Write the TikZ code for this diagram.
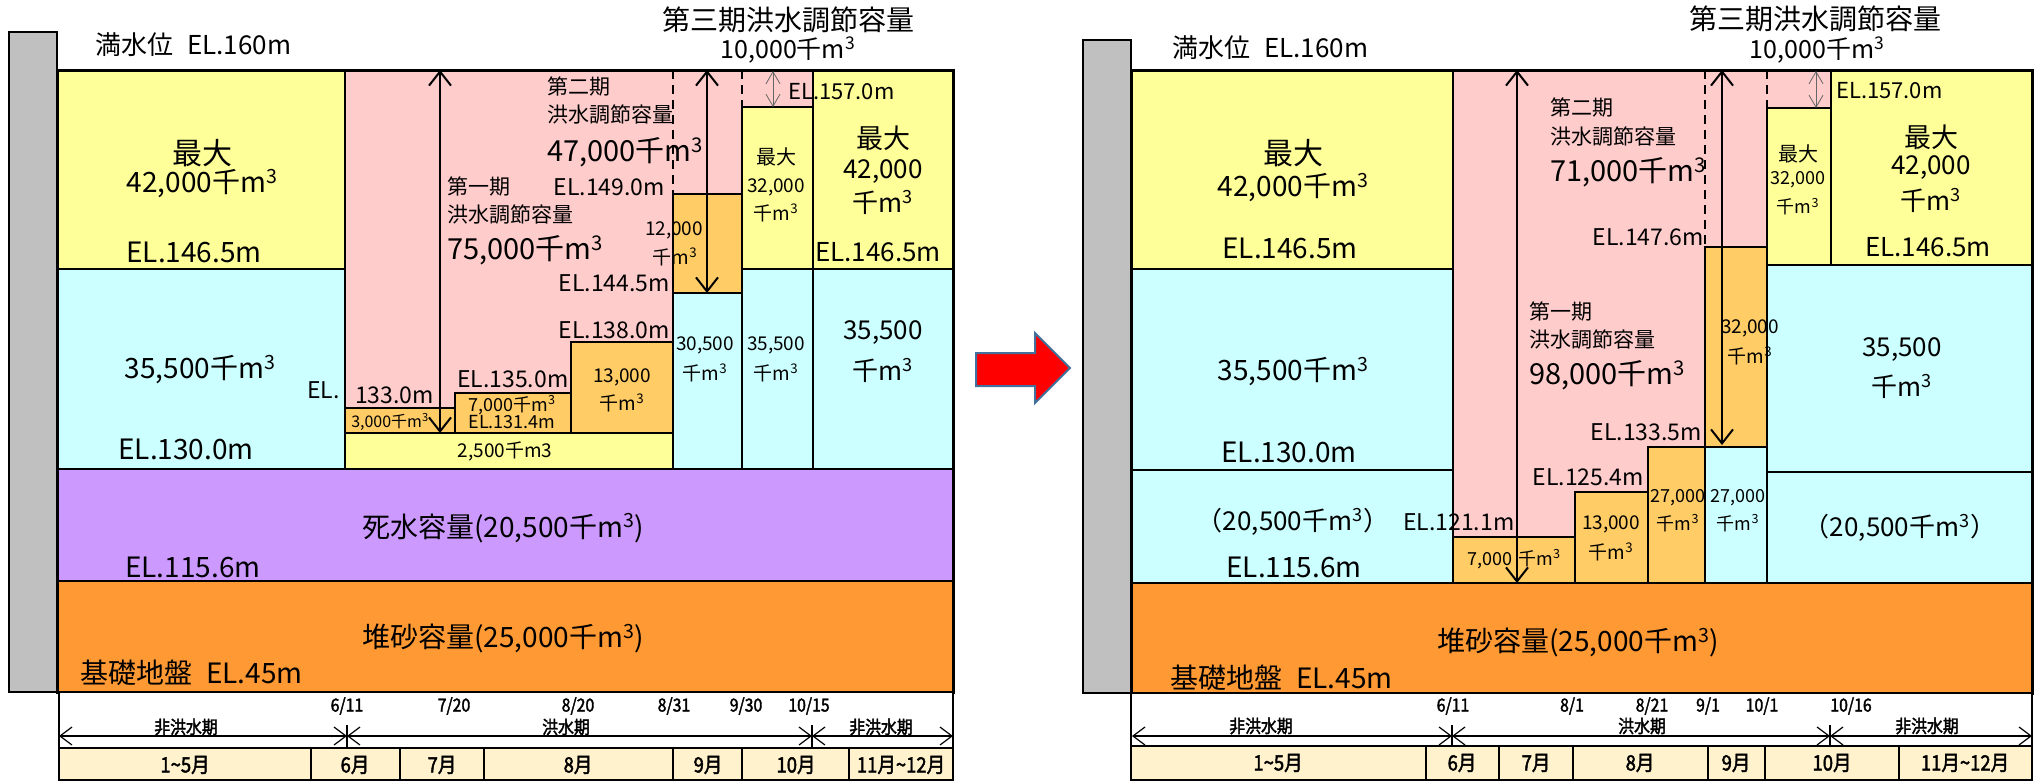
\documentclass[tikz,border=0pt]{standalone}
\usepackage{fontspec}
\setmainfont{Noto Sans CJK JP}
\newfontfamily\tlfont{Noto Sans CJK JP}[FakeBold=2,FakeStretch=0.88]
\usetikzlibrary{arrows.meta}
\definecolor{cyel}{HTML}{FFFF99}
\definecolor{ccyan}{HTML}{CCFFFF}
\definecolor{cpink}{HTML}{FFCCCC}
\definecolor{corgl}{HTML}{FFCC66}
\definecolor{cpurp}{HTML}{CC99FF}
\definecolor{corgd}{HTML}{FF9933}
\definecolor{cwall}{HTML}{C0C0C0}
\definecolor{ccream}{HTML}{FFF2CC}
\definecolor{cedge}{HTML}{41719C}
\newcommand\fs[1]{\fontsize{#1}{#1}\selectfont}
\newcommand\kmc{千m\textsuperscript{3}}
\begin{document}
\begin{tikzpicture}[x=1pt,y=-1pt,
  t/.style={inner sep=0pt,anchor=center},
  bx/.style={draw=black,line width=2.2pt},
  dsh/.style={draw=black,line width=2.2pt,dash pattern=on 9pt off 6pt},
  dbl/.style={line width=2pt,{Straight Barb[length=14pt,width=22pt]}-{Straight Barb[length=14pt,width=22pt]}},
  thn/.style={line width=0.8pt,draw=black!60,{Straight Barb[length=12pt,width=14pt]}-{Straight Barb[length=12pt,width=14pt]}},
  tla/.style={line width=1.2pt,{Straight Barb[length=12pt,width=18pt]}-{Straight Barb[length=12pt,width=18pt]}},
  tick/.style={line width=1.2pt},
  mon/.style={draw=black,line width=2.2pt,fill=ccream},
  tl/.style={inner sep=0pt,anchor=center,font=\tlfont\fs{18}},
  tm/.style={inner sep=0pt,anchor=center,font=\tlfont\fs{21}}]
\useasboundingbox (0,0) rectangle (2036,780);

% ================= LEFT DIAGRAM =================
\filldraw[fill=cwall,draw=black,line width=2pt] (9,32) rectangle (57,692);
\fill[cpink] (345,70) rectangle (813,469);
\draw[bx,fill=cyel] (57,70) rectangle (345,269);
\draw[bx,fill=ccyan] (57,269) rectangle (345,469);
\draw[bx,fill=cyel] (345,433) rectangle (673,469);
\draw[bx,fill=corgl] (345,408) rectangle (455,433);
\draw[bx,fill=corgl] (455,393) rectangle (571,433);
\draw[bx,fill=corgl] (571,342) rectangle (673,433);
\draw[bx,fill=corgl] (673,194) rectangle (742,293);
\draw[bx,fill=ccyan] (673,293) rectangle (742,469);
\draw[bx,fill=cyel] (742,107) rectangle (813,269);
\draw[bx,fill=ccyan] (742,269) rectangle (813,469);
\draw[bx,fill=cyel] (813,70) rectangle (953,269);
\draw[bx,fill=ccyan] (813,269) rectangle (953,469);
\draw[bx,fill=cpurp] (57,469) rectangle (953,581);
\draw[bx,fill=corgd] (57,581) rectangle (953,692);
\draw[line width=3pt] (57,70) rectangle (953,692);
\draw[dsh] (673,70) -- (673,194);
\draw[dsh] (742,70) -- (742,107);

\coordinate (la1t) at (440,70); \coordinate (la1b) at (440,433);
\coordinate (la2t) at (707,70); \coordinate (la2b) at (707,293);
\coordinate (la3t) at (773,71); \coordinate (la3b) at (773,107);
\draw[dbl] (la1t) -- (la1b);
\draw[dbl] (la2t) -- (la2b);
\draw[thn] (la3t) -- (la3b);

% texts left
\node[t,anchor=west,font=\fs{26}] (L1) at (95,45) {満水位\hspace{14pt}EL.160m};
\node[t,font=\fs{28}] (L2) at (788,20) {第三期洪水調節容量};
\node[t,font=\fs{25}] (L3) at (788,50) {10,000\kmc};
\node[t,font=\fs{30}] (L4) at (202,153) {最大};
\node[t,font=\fs{28}] (L5) at (202,184) {42,000\kmc};
\node[t,font=\fs{28}] (L6) at (194,252) {EL.146.5m};
\node[t,font=\fs{28}] (L7) at (200,370) {35,500\kmc};
\node[t,font=\fs{28}] (L8) at (186,449) {EL.130.0m};
\node[t,font=\fs{28}] (L9) at (503,528) {死水容量(20,500\kmc)};
\node[t,anchor=west,font=\fs{28}] (L10) at (125,567) {EL.115.6m};
\node[t,font=\fs{28}] (L11) at (503,638) {堆砂容量(25,000\kmc)};
\node[t,anchor=west,font=\fs{28}] (L12) at (80,673) {基礎地盤\hspace{14pt}EL.45m};
\node[t,anchor=west,font=\fs{21}] (L13) at (547,87) {第二期};
\node[t,anchor=west,font=\fs{21}] (L14) at (547,115) {洪水調節容量};
\node[t,anchor=west,font=\fs{29}] (L15) at (547,152) {47,000\kmc};
\node[t,anchor=west,font=\fs{21}] (L16) at (447,187) {第一期};
\node[t,anchor=west,font=\fs{21}] (L17) at (447,215) {洪水調節容量};
\node[t,anchor=west,font=\fs{29}] (L18) at (447,250) {75,000\kmc};
\node[t,anchor=east,font=\fs{23}] (L19) at (665,187) {EL.149.0m};
\node[t,anchor=east,font=\fs{23}] (L20) at (670,283) {EL.144.5m};
\node[t,anchor=east,font=\fs{23}] (L21) at (670,330) {EL.138.0m};
\node[t,anchor=west,font=\fs{23}] (L22) at (457,379) {EL.135.0m};
\node[t,anchor=east,font=\fs{23}] (L23) at (340,390) {EL.};
\node[t,anchor=west,font=\fs{23}] (L24) at (355,395) {133.0m};
\node[t,font=\fs{16}] (L25) at (390,422) {3,000\kmc};
\node[t,font=\fs{18}] (L26) at (512,405) {7,000\kmc};
\node[t,font=\fs{18}] (L27) at (512,422) {EL.131.4m};
\node[t,font=\fs{19}] (L28) at (622,377) {13,000};
\node[t,font=\fs{19}] (L29) at (622,403) {\kmc};
\node[t,font=\fs{19}] (L30) at (505,451) {2,500千m3};
\node[t,font=\fs{19}] (L31) at (674,230) {12,000};
\node[t,font=\fs{19}] (L32) at (675,257) {\kmc};
\node[t,font=\fs{20}] (L33) at (776,157) {最大};
\node[t,font=\fs{19}] (L34) at (776,187) {32,000};
\node[t,font=\fs{19}] (L35) at (776,213) {\kmc};
\node[t,font=\fs{27}] (L36) at (883,138) {最大};
\node[t,font=\fs{26}] (L37) at (883,172) {42,000};
\node[t,font=\fs{26}] (L38) at (883,202) {\kmc};
\node[t,font=\fs{26}] (L39) at (878,252) {EL.146.5m};
\node[t,anchor=west,font=\fs{22}] (L40) at (788,92) {EL.157.0m};
\node[t,font=\fs{19}] (L41) at (705,345) {30,500};
\node[t,font=\fs{19}] (L42) at (705,373) {\kmc};
\node[t,font=\fs{19}] (L43) at (776,345) {35,500};
\node[t,font=\fs{19}] (L44) at (776,373) {\kmc};
\node[t,font=\fs{26}] (L45) at (883,333) {35,500};
\node[t,font=\fs{26}] (L46) at (883,370) {\kmc};

% timeline left
\draw[line width=1.5pt,fill=white] (59,692) rectangle (953,748);
\draw[mon] (59,748) rectangle (311,780);
\draw[mon] (311,748) rectangle (400,780);
\draw[mon] (400,748) rectangle (484,780);
\draw[mon] (484,748) rectangle (673,780);
\draw[mon] (673,748) rectangle (742,780);
\draw[mon] (742,748) rectangle (849,780);
\draw[mon] (849,748) rectangle (953,780);
\coordinate (lt0) at (59,736); \coordinate (lt1) at (347,736);
\coordinate (lt2) at (812,736); \coordinate (lt3) at (953,736);
\draw[tla] (lt0) -- (lt1);
\draw[tla] (lt1) -- (lt2);
\draw[tla] (lt2) -- (lt3);
\draw[tick] (347,725) -- (347,747);
\draw[tick] (812,725) -- (812,747);
\node[tl] (LD1) at (347,706) {6/11};
\node[tl] (LD2) at (454,706) {7/20};
\node[tl] (LD3) at (578,706) {8/20};
\node[tl] (LD4) at (674,706) {8/31};
\node[tl] (LD5) at (746,706) {9/30};
\node[tl] (LD6) at (809,706) {10/15};
\node[tl] (LP1) at (186,727) {非洪水期};
\node[tl] (LP2) at (566,727) {洪水期};
\node[tl] (LP3) at (881,727) {非洪水期};
\node[tm] (LM1) at (185,765) {1\textasciitilde 5月};
\node[tm] (LM2) at (355,765) {6月};
\node[tm] (LM3) at (442,765) {7月};
\node[tm] (LM4) at (578,765) {8月};
\node[tm] (LM5) at (708,765) {9月};
\node[tm] (LM6) at (796,765) {10月};
\node[tm] (LM7) at (901,765) {11月\textasciitilde 12月};

% ================= RED ARROW =================
\filldraw[fill=red,draw=cedge,line width=2pt] (976,353) -- (1035,353) -- (1035,333) -- (1070,368) -- (1035,403) -- (1035,386) -- (976,386) -- cycle;

% ================= RIGHT DIAGRAM =================
\filldraw[fill=cwall,draw=black,line width=2pt] (1083,40) rectangle (1131,693);
\fill[cpink] (1453,70) rectangle (1831,583);
\draw[bx,fill=cyel] (1131,70) rectangle (1453,269);
\draw[bx,fill=ccyan] (1131,269) rectangle (1453,470);
\draw[bx,fill=ccyan] (1131,470) rectangle (1453,583);
\draw[bx,fill=corgl] (1453,537) rectangle (1575,583);
\draw[bx,fill=corgl] (1575,492) rectangle (1648,583);
\draw[bx,fill=corgl] (1648,447) rectangle (1705,583);
\draw[bx,fill=ccyan] (1705,447) rectangle (1767,583);
\draw[bx,fill=corgl] (1705,247) rectangle (1767,447);
\draw[bx,fill=cyel] (1767,108) rectangle (1831,265);
\draw[bx,fill=cyel] (1831,70) rectangle (2032,265);
\draw[bx,fill=ccyan] (1767,265) rectangle (2032,472);
\draw[bx,fill=ccyan] (1767,472) rectangle (2032,583);
\draw[bx,fill=corgd] (1131,583) rectangle (2032,693);
\draw[line width=3pt] (1131,70) rectangle (2032,693);
\draw[dsh] (1705,70) -- (1705,247);
\draw[dsh] (1767,70) -- (1767,108);

\coordinate (ra1t) at (1517,70); \coordinate (ra1b) at (1517,583);
\coordinate (ra2t) at (1722,70); \coordinate (ra2b) at (1722,445);
\coordinate (ra3t) at (1816,71); \coordinate (ra3b) at (1816,108);
\draw[dbl] (ra1t) -- (ra1b);
\draw[dbl] (ra2t) -- (ra2b);
\draw[thn] (ra3t) -- (ra3b);

\node[t,anchor=west,font=\fs{26}] (R1) at (1172,48) {満水位\hspace{14pt}EL.160m};
\node[t,font=\fs{28}] (R2) at (1815,19) {第三期洪水調節容量};
\node[t,font=\fs{25}] (R3) at (1817,50) {10,000\kmc};
\node[t,font=\fs{30}] (R4) at (1293,153) {最大};
\node[t,font=\fs{28}] (R5) at (1293,188) {42,000\kmc};
\node[t,font=\fs{28}] (R6) at (1290,248) {EL.146.5m};
\node[t,font=\fs{28}] (R7) at (1293,372) {35,500\kmc};
\node[t,font=\fs{28}] (R8) at (1289,452) {EL.130.0m};
\node[t,font=\fs{26}] (R9) at (1293,522) {（20,500\kmc）};
\node[t,font=\fs{28}] (R10) at (1294,567) {EL.115.6m};
\node[t,anchor=west,font=\fs{23}] (R11) at (1403,522) {EL.121.1m};
\node[t,font=\fs{28}] (R12) at (1578,642) {堆砂容量(25,000\kmc)};
\node[t,anchor=west,font=\fs{28}] (R13) at (1170,678) {基礎地盤\hspace{14pt}EL.45m};
\node[t,anchor=west,font=\fs{21}] (R14) at (1550,108) {第二期};
\node[t,anchor=west,font=\fs{21}] (R15) at (1550,137) {洪水調節容量};
\node[t,anchor=west,font=\fs{29}] (R16) at (1550,172) {71,000\kmc};
\node[t,anchor=east,font=\fs{23}] (R17) at (1704,237) {EL.147.6m};
\node[t,anchor=west,font=\fs{21}] (R18) at (1529,312) {第一期};
\node[t,anchor=west,font=\fs{21}] (R19) at (1529,340) {洪水調節容量};
\node[t,anchor=west,font=\fs{29}] (R20) at (1529,375) {98,000\kmc};
\node[t,anchor=east,font=\fs{23}] (R21) at (1702,432) {EL.133.5m};
\node[t,anchor=east,font=\fs{23}] (R22) at (1644,477) {EL.125.4m};
\node[t,font=\fs{18}] (R23) at (1514,559) {7,000\hspace{6pt}\kmc};
\node[t,font=\fs{19}] (R24) at (1611,524) {13,000};
\node[t,font=\fs{19}] (R25) at (1611,552) {\kmc};
\node[t,font=\fs{18}] (R26) at (1678,498) {27,000};
\node[t,font=\fs{18}] (R27) at (1678,523) {\kmc};
\node[t,font=\fs{18}] (R28) at (1738,498) {27,000};
\node[t,font=\fs{18}] (R29) at (1738,523) {\kmc};
\node[t,font=\fs{19}] (R30) at (1750,328) {32,000};
\node[t,font=\fs{19}] (R31) at (1750,356) {\kmc};
\node[t,font=\fs{20}] (R32) at (1798,154) {最大};
\node[t,font=\fs{18}] (R33) at (1798,180) {32,000};
\node[t,font=\fs{18}] (R34) at (1798,207) {\kmc};
\node[t,font=\fs{27}] (R35) at (1931,137) {最大};
\node[t,font=\fs{26}] (R36) at (1931,168) {42,000};
\node[t,font=\fs{26}] (R37) at (1931,200) {\kmc};
\node[t,font=\fs{26}] (R38) at (1928,247) {EL.146.5m};
\node[t,anchor=west,font=\fs{22}] (R39) at (1836,91) {EL.157.0m};
\node[t,font=\fs{26}] (R40) at (1902,350) {35,500};
\node[t,font=\fs{26}] (R41) at (1902,386) {\kmc};
\node[t,font=\fs{26}] (R42) at (1900,528) {（20,500\kmc）};

% timeline right
\draw[line width=1.5pt,fill=white] (1131,693) rectangle (2032,746);
\draw[mon] (1131,746) rectangle (1426,780);
\draw[mon] (1426,746) rectangle (1499,780);
\draw[mon] (1499,746) rectangle (1573,780);
\draw[mon] (1573,746) rectangle (1708,780);
\draw[mon] (1708,746) rectangle (1765,780);
\draw[mon] (1765,746) rectangle (1899,780);
\draw[mon] (1899,746) rectangle (2032,780);
\coordinate (rt0) at (1132,736); \coordinate (rt1) at (1452,736);
\coordinate (rt2) at (1830,736); \coordinate (rt3) at (2032,736);
\draw[tla] (rt0) -- (rt1);
\draw[tla] (rt1) -- (rt2);
\draw[tla] (rt2) -- (rt3);
\draw[tick] (1452,725) -- (1452,746);
\draw[tick] (1830,725) -- (1830,746);
\node[tl] (RD1) at (1453,706) {6/11};
\node[tl] (RD2) at (1572,706) {8/1};
\node[tl] (RD3) at (1652,706) {8/21};
\node[tl] (RD4) at (1708,706) {9/1};
\node[tl] (RD5) at (1762,706) {10/1};
\node[tl] (RD6) at (1851,706) {10/16};
\node[tl] (RP1) at (1261,726) {非洪水期};
\node[tl] (RP2) at (1642,726) {洪水期};
\node[tl] (RP3) at (1927,726) {非洪水期};
\node[tm] (RM1) at (1278,763) {1\textasciitilde 5月};
\node[tm] (RM2) at (1462,763) {6月};
\node[tm] (RM3) at (1536,763) {7月};
\node[tm] (RM4) at (1640,763) {8月};
\node[tm] (RM5) at (1736,763) {9月};
\node[tm] (RM6) at (1832,763) {10月};
\node[tm] (RM7) at (1965,763) {11月\textasciitilde 12月};
\end{tikzpicture}
\end{document}
